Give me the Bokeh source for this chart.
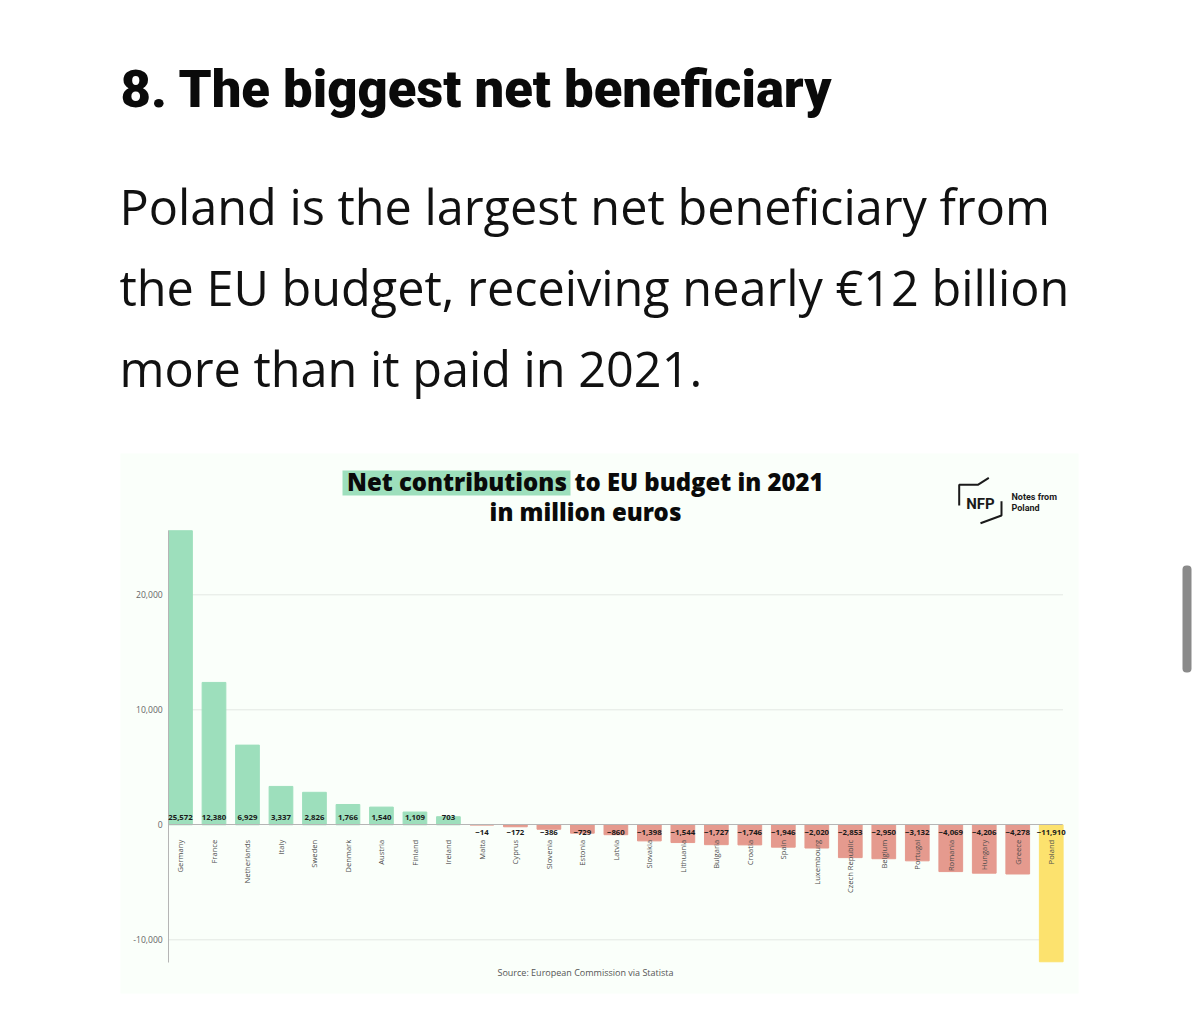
import math
from bokeh.core.properties import value
from bokeh.embed import file_html
from bokeh.resources import INLINE
from bokeh.plotting import figure
from bokeh.models import (ColumnDataSource, Range1d, FixedTicker, NumeralTickFormatter,
                          Label, LabelSet, BoxAnnotation, PolyAnnotation)

countries = ["Germany", "France", "Netherlands", "Italy", "Sweden", "Denmark", "Austria", "Finland", "Ireland",
             "Malta", "Cyprus", "Slovenia", "Estonia", "Latvia", "Slovakia", "Lithuania", "Bulgaria", "Croatia",
             "Spain", "Luxembourg", "Czech Republic", "Belgium", "Portugal", "Romania", "Hungary", "Greece", "Poland"]
values = [25572, 12380, 6929, 3337, 2826, 1766, 1540, 1109, 703,
          -14, -172, -386, -729, -860, -1398, -1544, -1727, -1746,
          -1946, -2020, -2853, -2950, -3132, -4069, -4206, -4278, -11910]
y_ticks = [-10000, 0, 10000, 20000]

GREEN, RED, YELLOW = "#9ddfbc", "#e59a8e", "#fce26e"
PANEL = "#fafffa"
W, H = 1200, 1034

# px layout of the plot area in the page
X0_PX, BAND_PX = 180.0, 33.49
Y0_PX, PX_PER_UNIT = 824.3, 0.0115
AX_L, AX_R = -0.35, 26.35
VAL_T, VAL_B = 25590, -11970


def fmt(v):
    return f"{v:,}".replace("-", "\u2212")


idx = list(range(len(countries)))
colors = [YELLOW if c == "Poland" else (GREEN if v > 0 else RED) for c, v in zip(countries, values)]
src = ColumnDataSource(dict(x=idx, v=values, color=colors))
pi = [i for i in idx if values[i] > 0]
ni = [i for i in idx if values[i] <= 0]
src_pos = ColumnDataSource(dict(x=pi, y=[0] * len(pi), t=[fmt(values[i]) for i in pi]))
src_neg = ColumnDataSource(dict(x=ni, y=[0] * len(ni), t=[fmt(values[i]) for i in ni]))

p = figure(width=W, height=H, output_backend="svg", toolbar_location=None,
           x_range=Range1d((0 - X0_PX) / BAND_PX, (W - X0_PX) / BAND_PX),
           y_range=Range1d(-(H - Y0_PX) / PX_PER_UNIT, Y0_PX / PX_PER_UNIT),
           min_border=0, min_border_left=0, min_border_right=0, min_border_top=0, min_border_bottom=0)
p.outline_line_color = None
p.background_fill_alpha = 0
p.border_fill_color = "#ffffff"


def sy(y):
    return H - y


def box(l, r, t, b, color, level="underlay", **kw):
    p.add_layout(BoxAnnotation(left=l, right=r, top=sy(t), bottom=sy(b),
                               left_units="screen", right_units="screen", top_units="screen", bottom_units="screen",
                               fill_color=color, fill_alpha=1, line_color=None, level=level, **kw))


box(120, 1078, 453, 993, PANEL)
box(342, 570, 470, 495, GREEN)
box(1182, 1191, 565, 672, "#8a8a8a", level="annotation", border_radius=4)

p.grid.visible = False
grid_y = [t for t in y_ticks if t != 0]
p.segment(x0=[AX_L] * len(grid_y), x1=[AX_R] * len(grid_y), y0=grid_y, y1=grid_y, line_color="#e3e8e3", line_width=1)
p.vbar(x="x", top="v", bottom=0, width=0.708, color="color", source=src)

ya = p.yaxis[0]
ya.fixed_location = AX_L
ya.bounds = (VAL_B, VAL_T)
ya.ticker = FixedTicker(ticks=y_ticks)
ya.formatter = NumeralTickFormatter(format="0,0")
ya.axis_line_color = "#b5b5b5"
ya.major_tick_line_color = None
ya.minor_tick_line_color = None
ya.major_tick_out = 0
ya.major_label_standoff = 6
ya.major_label_text_font = "Open Sans"
ya.major_label_text_font_size = "8.6px"
ya.major_label_text_color = "#666666"

xa = p.xaxis[0]
xa.fixed_location = 0
xa.bounds = (AX_L, AX_R)
xa.ticker = FixedTicker(ticks=idx)
xa.major_label_overrides = {i: c for i, c in zip(idx, countries)}
xa.axis_line_color = "#b5b5b5"
xa.major_tick_line_color = None
xa.minor_tick_line_color = None
xa.major_tick_out = 0
xa.major_label_orientation = math.pi / 2
xa.major_label_standoff = 15
xa.major_label_text_font = "Open Sans"
xa.major_label_text_font_size = "7.6px"
xa.major_label_text_color = "#4d4d4d"

for s, off in ((src_pos, 7), (src_neg, -8)):
    p.add_layout(LabelSet(x="x", y="y", text="t", source=s, y_offset=off, text_align="center",
                          text_baseline="middle", text_font=value("Open Sans"), text_font_style="bold",
                          text_font_size="7.8px", text_color="#1a1a1a"))


def txt(x, y, t, font, size, style="normal", color="#000000", align="left"):
    # y is the wanted baseline in page pixels; the renderer puts alphabetic text about 0.4em lower
    p.add_layout(Label(x=x, y=sy(y - 0.4 * size), text=t, x_units="screen", y_units="screen", text_font=font,
                       text_font_size=f"{size}px", text_font_style=style, text_color=color,
                       text_align=align, text_baseline="alphabetic"))


txt(120, 110, "8. The biggest net beneficiary", "Roboto Black", 52.6, "bold", "#0a0a0a")
txt(119, 225, "Poland is the largest net beneficiary from", "Open Sans", 48.6, color="#111111")
txt(119, 306, "the EU budget, receiving nearly \u20ac12 billion", "Open Sans", 48.6, color="#111111")
txt(119, 387, "more than it paid in 2021.", "Open Sans", 48.6, color="#111111")
txt(346.5, 491, "Net contributions", "Open Sans ExtraBold", 23.9, "bold", "#0a0a0a")
txt(574, 491, "to EU budget in 2021", "Open Sans ExtraBold", 23.9, "bold", "#0a0a0a")
txt(585, 521, "in million euros", "Open Sans ExtraBold", 23.9, "bold", "#0a0a0a", align="center")
txt(585, 976, "Source: European Commission via Statista", "Open Sans", 9, color="#555555", align="center")
txt(980, 509, "NFP", "Roboto", 15, "bold", "#1a1a1a", align="center")
txt(1011, 500, "Notes from", "Roboto", 9, "bold", "#1a1a1a")
txt(1011, 511, "Poland", "Roboto", 9, "bold", "#1a1a1a")

for path in ([(958.7, 505), (958.7, 484.3), (977.3, 484.3), (988.3, 477.3)],
             [(1001, 500.7), (1001, 515), (980, 522.7)]):
    closed = path + path[-2:0:-1]
    p.add_layout(PolyAnnotation(xs=[a for a, _ in closed], ys=[sy(b) for _, b in closed],
                                xs_units="screen", ys_units="screen", fill_alpha=0,
                                line_color="#1a1a1a", line_alpha=1, line_width=2))

open("out.html", "w").write(file_html(p, INLINE))
